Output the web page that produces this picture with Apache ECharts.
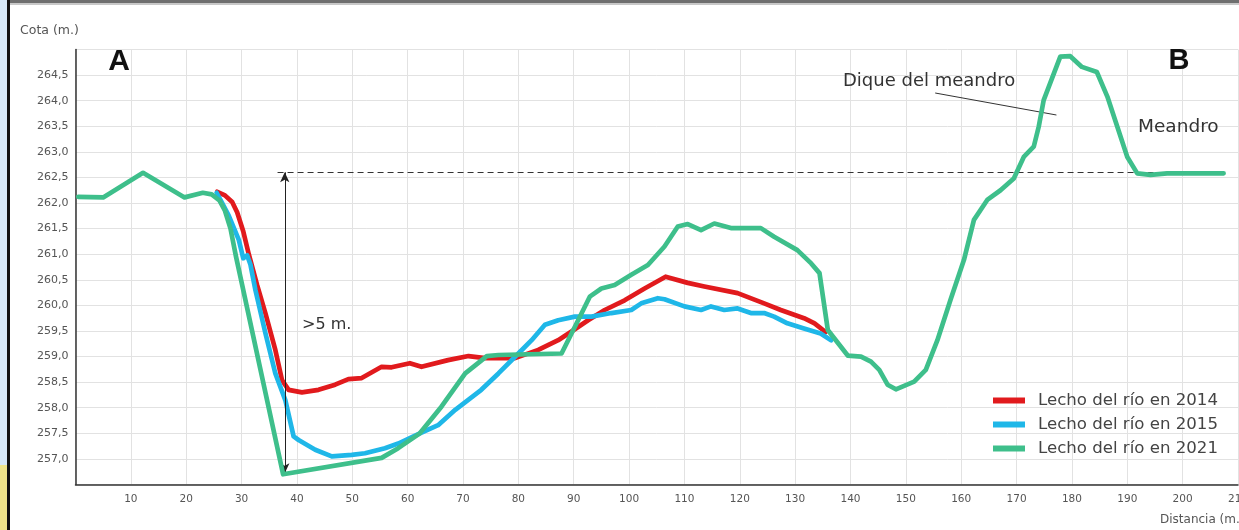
<!DOCTYPE html>
<html>
<head>
<meta charset="utf-8">
<script src="https://cdn.jsdelivr.net/npm/echarts@6/dist/echarts.min.js"></script>
<style>
html,body{margin:0;padding:0;background:#fff;}
#c{width:1239px;height:530px;}
</style>
</head>
<body>
<div id="c"></div>
<script>
// ---- data (distance m, elevation m) ----
var seriesNames = ['Lecho del río en 2014', 'Lecho del río en 2015', 'Lecho del río en 2021'];

var red2014 = [[25.6,262.22],[27,262.15],[28.3,262.02],[29.2,261.82],[30.3,261.45],[31.3,261.0],[32.8,260.4],[34.3,259.85],[36.1,259.13],[37.3,258.54],[38.5,258.35],[40.9,258.3],[43.9,258.35],[46.9,258.45],[49.3,258.56],[51.7,258.58],[55.3,258.8],[57.1,258.79],[60.4,258.87],[62.5,258.8],[67.3,258.93],[71,259.01],[74,258.97],[79.4,258.97],[83.6,259.13],[87.2,259.32],[89.6,259.49],[92.6,259.71],[95.6,259.91],[99.2,260.1],[102.8,260.33],[106.6,260.56],[110.6,260.44],[113.6,260.37],[119.6,260.24],[124.4,260.04],[127.4,259.91],[131.6,259.75],[133.5,259.65],[135.5,259.48]];

var blue2015 = [[25.5,262.2],[26.5,262.0],[27.7,261.75],[29.5,261.28],[30.3,260.92],[31,260.98],[31.6,260.8],[32.5,260.3],[34.3,259.46],[36.1,258.67],[37.9,258.15],[39.4,257.44],[40.3,257.37],[43.3,257.18],[46.3,257.05],[49.9,257.08],[52.3,257.11],[55.9,257.21],[58.3,257.3],[62.2,257.5],[65.5,257.66],[68.6,257.96],[73.3,258.35],[76.4,258.67],[80,259.06],[82.4,259.32],[84.8,259.62],[87.2,259.71],[90.2,259.78],[93.2,259.78],[96.8,259.85],[100.4,259.91],[102.2,260.04],[105.2,260.14],[106.4,260.12],[110,259.98],[113,259.91],[114.8,259.98],[117.2,259.91],[119.6,259.94],[122,259.85],[124.4,259.85],[126.2,259.78],[128.6,259.65],[131.6,259.55],[134.6,259.45],[136.5,259.32]];

var green2021 = [[0.5,262.12],[5,262.11],[12.2,262.59],[19.7,262.11],[23,262.2],[24.6,262.17],[26,262.05],[27,261.85],[28,261.5],[29,260.95],[30,260.45],[37.5,256.7],[55.3,257.02],[58.3,257.21],[62.2,257.5],[66.1,258.02],[70.4,258.67],[74.3,259.01],[76.4,259.03],[87.8,259.06],[90.8,259.71],[92.9,260.17],[95,260.33],[97.4,260.4],[100.4,260.6],[103.4,260.79],[106.4,261.15],[108.8,261.54],[110.6,261.59],[113,261.47],[115.4,261.6],[118.4,261.51],[123.8,261.51],[126.2,261.34],[130.4,261.08],[132.9,260.82],[134.4,260.63],[135.9,259.52],[139.5,259.02],[141.9,259.0],[143.7,258.9],[145.2,258.74],[146.7,258.45],[148.2,258.36],[151.5,258.51],[153.6,258.74],[155.7,259.32],[158.1,260.12],[160.5,260.89],[162.3,261.67],[164.7,262.06],[167.1,262.25],[169.5,262.48],[171.3,262.9],[173.1,263.1],[174,263.49],[174.9,264.01],[177.9,264.86],[179.7,264.87],[181.8,264.66],[184.5,264.56],[186.4,264.08],[188.2,263.49],[190,262.9],[191.8,262.58],[194.2,262.55],[197.2,262.58],[207.4,262.58]];

// annotation values
var refLevel = 262.6;          // dashed reference level
var refLevelStart = 36.5, refLevelEnd = 207;
var arrowX = 37.8, arrowBottom = 256.72;
var leader = [[155.3,264.15],[177.2,263.72]];

var xMin = 0, xMax = 210, xStep = 10;
var yMin = 256.5, yMax = 265, yStep = 0.5;

var colors = ['#e11a1d', '#1fb7e8', '#3ebf8b'];
var FONT = '"DejaVu Sans"';

var chart = echarts.init(document.getElementById('c'));
var option = {
  animation: false,
  backgroundColor: '#ffffff',
  grid: {left: 75.5, right: 1, top: 49.5, bottom: 45.5, containLabel: false, outerBoundsMode: 'none'},
  xAxis: {
    type: 'value', min: xMin, max: xMax, interval: xStep,
    axisLine: {show: true, onZero: false, lineStyle: {color: '#333', width: 1.5}},
    axisTick: {show: false},
    axisLabel: {color: '#555', fontSize: 10.5, fontFamily: FONT, margin: 9,
      formatter: function(v){ return v === 0 ? '' : String(v); }},
    splitLine: {show: true, lineStyle: {color: '#e2e2e2', width: 1}}
  },
  yAxis: {
    type: 'value', min: yMin, max: yMax, interval: yStep,
    axisLine: {show: true, lineStyle: {color: '#333', width: 1.5}},
    axisTick: {show: false},
    axisLabel: {color: '#555', fontSize: 11, fontFamily: FONT, margin: 7,
      showMinLabel: false, showMaxLabel: false,
      formatter: function(v){ return v.toFixed(1).replace('.', ','); }},
    splitLine: {show: true, lineStyle: {color: '#e2e2e2', width: 1}}
  },
  legend: {
    orient: 'vertical', left: 988, top: 387, itemGap: 7,
    itemWidth: 32, itemHeight: 6, icon: 'rect',
    textStyle: {color: '#444', fontSize: 16.6, fontFamily: FONT, padding: [0,0,0,8]},
    data: seriesNames
  },
  series: [
    {
      name: 'annot', type: 'line', data: [], z: 1, silent: true,
      markLine: {
        silent: true, animation: false, symbol: ['none','none'],
        label: {show: false},
        data: [
          [{coord: [refLevelStart, refLevel], lineStyle: {type: [6,4], color: '#333', width: 1.2}},
           {coord: [refLevelEnd, refLevel]}],
          [{coord: leader[0], lineStyle: {type: 'solid', color: '#333', width: 1}},
           {coord: leader[1]}]
        ]
      }
    },
    {
      name: 'arrow', type: 'line', data: [], z: 6, silent: true,
      markLine: {
        silent: true, animation: false, symbol: ['arrow','arrow'], symbolSize: [7, 10],
        label: {show: false},
        lineStyle: {type: 'solid', color: '#222', width: 1},
        data: [[{coord: [arrowX, refLevel]}, {coord: [arrowX, arrowBottom]}]]
      }
    },
    {name: seriesNames[0], type: 'line', data: red2014, showSymbol: false, symbol: 'none', z: 3,
     itemStyle: {color: colors[0]}, lineStyle: {color: colors[0], width: 4.7, join: 'round', cap: 'round'}},
    {name: seriesNames[1], type: 'line', data: blue2015, showSymbol: false, symbol: 'none', z: 4,
     itemStyle: {color: colors[1]}, lineStyle: {color: colors[1], width: 4.7, join: 'round', cap: 'round'}},
    {name: seriesNames[2], type: 'line', data: green2021, showSymbol: false, symbol: 'none', z: 5,
     itemStyle: {color: colors[2]}, lineStyle: {color: colors[2], width: 4.7, join: 'round', cap: 'round'}}
  ],
  graphic: [
    // screenshot frame
    {type: 'rect', shape: {x: 0, y: 0, width: 1239, height: 3}, style: {fill: '#6f6f6f'}, z: 100},
    {type: 'rect', shape: {x: 0, y: 3, width: 1239, height: 2}, style: {fill: '#c8c8c8'}, z: 100},
    {type: 'rect', shape: {x: 0, y: 0, width: 7, height: 465}, style: {fill: '#d6e8f7'}, z: 100},
    {type: 'rect', shape: {x: 0, y: 465, width: 7, height: 65}, style: {fill: '#efe48a'}, z: 100},
    {type: 'rect', shape: {x: 7, y: 0, width: 3, height: 530}, style: {fill: '#111'}, z: 100},
    // texts
    {type: 'text', x: 20, y: 31, style: {text: 'Cota (m.)', fill: '#555', font: '12.5px ' + FONT, textVerticalAlign: 'middle'}, z: 50},
    {type: 'text', x: 1160, y: 520, style: {text: 'Distancia (m.)', fill: '#555', font: '12px ' + FONT, textVerticalAlign: 'middle'}, z: 50},
    {type: 'text', x: 119, y: 62, style: {text: 'A', fill: '#111', font: 'bold 30px "Liberation Sans"', textAlign: 'center', textVerticalAlign: 'middle'}, z: 50},
    {type: 'text', x: 1179, y: 61, style: {text: 'B', fill: '#111', font: 'bold 29px "Liberation Sans Narrow", "Liberation Sans"', textAlign: 'center', textVerticalAlign: 'middle'}, z: 50},
    {type: 'text', x: 843, y: 81, style: {text: 'Dique del meandro', fill: '#333', font: '18px ' + FONT, textAlign: 'left', textVerticalAlign: 'middle'}, z: 50},
    {type: 'text', x: 1138, y: 127, style: {text: 'Meandro', fill: '#333', font: '18.5px ' + FONT, textAlign: 'left', textVerticalAlign: 'middle'}, z: 50},
    {type: 'text', x: 302, y: 325, style: {text: '>5 m.', fill: '#333', font: '16px ' + FONT, textAlign: 'left', textVerticalAlign: 'middle'}, z: 50}
  ]
};
chart.setOption(option);
</script>
</body>
</html>
